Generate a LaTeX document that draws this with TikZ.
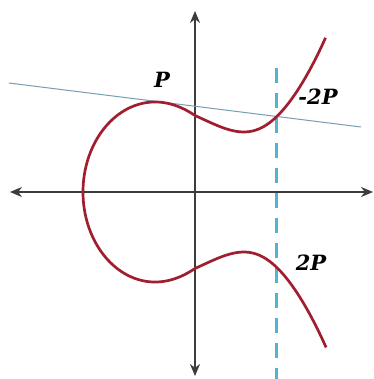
\documentclass[tikz,border=0pt]{standalone}
\usepackage{fontspec}
\newfontfamily\labelfont{DejaVu Serif}
\usetikzlibrary{arrows.meta}
\definecolor{curvered}{RGB}{160,30,45}
\definecolor{axisgray}{RGB}{60,60,60}
\definecolor{tanblue}{RGB}{120,160,180}
\definecolor{dashblue}{RGB}{80,180,210}
\tikzset{
  axisline/.style={draw=axisgray, line width=2.3pt, -{Stealth[length=12pt,width=10pt]}},
  ecurve/.style={draw=curvered, line width=2.7pt, line join=round},
  tangentline/.style={draw=tanblue, line width=1pt},
  vdash/.style={draw=dashblue, line width=3pt, dash pattern=on 15pt off 10pt},
  pointlabel/.style={font=\labelfont\fontsize{21}{21}\selectfont\bfseries\itshape, inner sep=0pt}
}
\begin{document}
\begin{tikzpicture}[x=1pt,y=-1pt,
  declare function={
    ex(\u)=-2.295+\u*\u;
    qq(\u)=ex(\u)*ex(\u)-2.295*ex(\u)+2.267;
    corr(\u)=12*((ex(\u)>1)*(ex(\u)-1)/1.95)^2;
    bump(\u)=(ex(\u)<0)*9*(ex(\u)+2.295)*(-ex(\u))/1.3168;
  }]
\useasboundingbox (0,0) rectangle (373,379);
\fill[white] (0,0) rectangle (373,379);
% axes
\coordinate (O) at (195,192);
\coordinate (xl) at (10,192);
\coordinate (xr) at (373,192);
\coordinate (yt) at (195,11);
\coordinate (yb) at (195,376);
\draw[axisline] (O) -- (xl);
\draw[axisline] (O) -- (xr);
\draw[axisline] (O) -- (yt);
\draw[axisline] (O) -- (yb);
% tangent line
\coordinate (tl) at (9,83);
\coordinate (tr) at (361,127);
\draw[tangentline] (tl) -- (tr);
% dashed vertical line
\coordinate (dt) at (276,68);
\coordinate (db) at (276,379);
\draw[vdash] (dt) -- (db);
% elliptic curve y^2 = x^3 - 3x + b, parametrised x = r + u^2
\draw[ecurve] plot[domain=-2.285:2.285, samples=241, variable=\u]
  ({195+48.8*ex(\u)-corr(\u)+bump(\u)}, {192-33.54*\u*sqrt(qq(\u))});
% labels
\node[pointlabel] (P) at (162,80) {P};
\node[pointlabel] (mP) at (318,97) {-2P};
\node[pointlabel] (tP) at (311,263) {2P};
\end{tikzpicture}
\end{document}
